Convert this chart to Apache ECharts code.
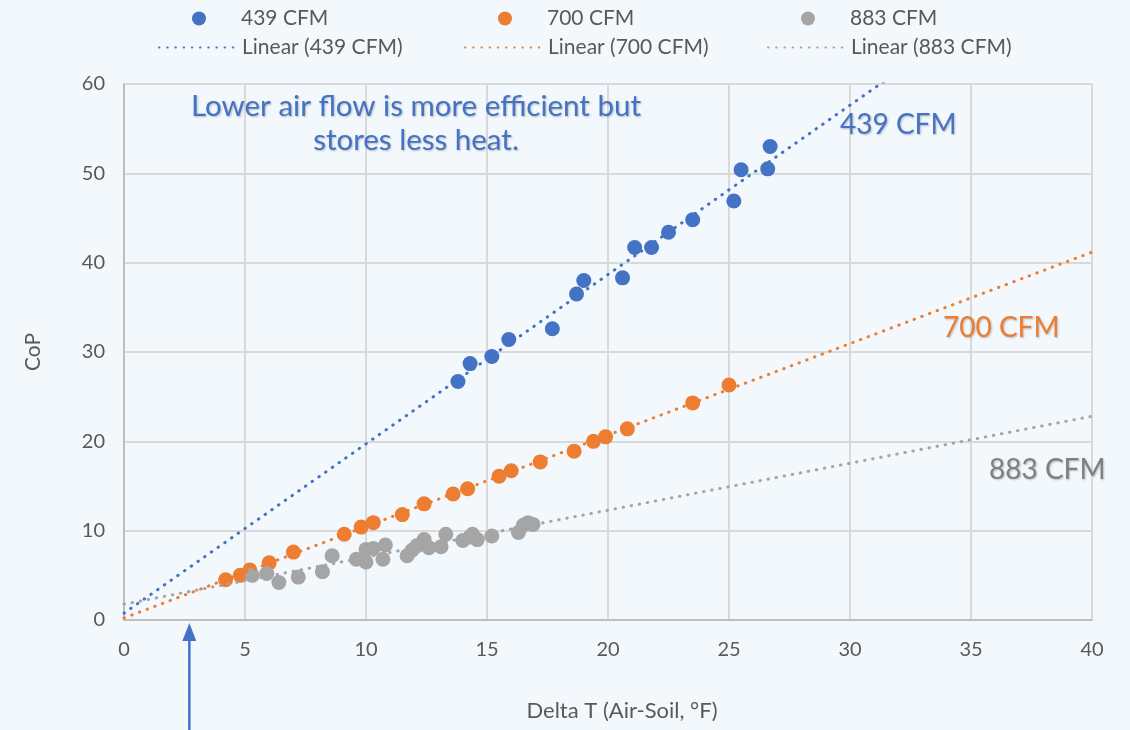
<!DOCTYPE html>
<html>
<head>
<meta charset="utf-8">
<script src="https://cdn.jsdelivr.net/npm/echarts@6/dist/echarts.min.js"></script>
<style>
  html, body { margin: 0; padding: 0; background: #f3f8fd; }
  #chart { width: 1130px; height: 730px; }
</style>
</head>
<body>
<div id="chart"></div>
<script>
// Air-flow groups
const seriesNames = ['439 CFM', '700 CFM', '883 CFM'];
const seriesColors = ['#4472C4', '#ED7D31', '#A5A5A5'];
const labelColors = ['#4472C4', '#ED7D31', '#7F7F7F'];

// 439 CFM: Delta T (°F) and CoP
const cfm439DeltaT = [13.8, 14.3, 15.2, 15.9, 17.7, 18.7, 19.0, 20.6, 21.1, 21.8, 22.5, 23.5, 25.2, 25.5, 26.6, 26.7];
const cfm439CoP    = [26.7, 28.7, 29.5, 31.4, 32.6, 36.5, 38.0, 38.3, 41.7, 41.7, 43.4, 44.8, 46.9, 50.4, 50.5, 53.0];

// 700 CFM
const cfm700DeltaT = [4.2, 4.8, 5.2, 6.0, 7.0, 9.1, 9.8, 10.3, 11.5, 12.4, 13.6, 14.2, 15.5, 16.0, 17.2, 18.6, 19.4, 19.9, 20.8, 23.5, 25.0];
const cfm700CoP    = [4.5, 5.0, 5.6, 6.4, 7.6, 9.6, 10.4, 10.9, 11.8, 13.0, 14.1, 14.7, 16.1, 16.7, 17.7, 18.9, 20.0, 20.5, 21.4, 24.3, 26.3];

// 883 CFM
const cfm883DeltaT = [5.3, 5.9, 6.4, 7.2, 8.2, 8.6, 9.6, 10.0, 10.0, 10.3, 10.7, 10.8, 11.7, 11.9, 12.1, 12.4, 12.6, 13.1, 13.3, 14.0, 14.3, 14.4, 14.6, 15.2, 16.3, 16.5, 16.7, 16.9];
const cfm883CoP    = [5.0, 5.2, 4.2, 4.8, 5.4, 7.2, 6.8, 6.5, 7.9, 8.0, 6.8, 8.4, 7.2, 7.8, 8.3, 9.0, 8.1, 8.2, 9.6, 8.9, 9.3, 9.6, 9.0, 9.4, 9.8, 10.6, 10.9, 10.7];

// Axis ranges and ticks
const xTicks = [0, 5, 10, 15, 20, 25, 30, 35, 40];
const yTicks = [0, 10, 20, 30, 40, 50, 60];

// Free-floating notes
const noteText = 'Lower air flow is more efficient but\nstores less heat.';
const arrowDeltaT = 2.7;

const groups = [
  [cfm439DeltaT, cfm439CoP],
  [cfm700DeltaT, cfm700CoP],
  [cfm883DeltaT, cfm883CoP]
];

// Least-squares linear fit, extended across the whole x range
function linearFit(xs, ys) {
  const n = xs.length;
  let sx = 0, sy = 0, sxx = 0, sxy = 0;
  for (let i = 0; i < n; i++) {
    sx += xs[i]; sy += ys[i]; sxx += xs[i] * xs[i]; sxy += xs[i] * ys[i];
  }
  const m = (n * sxy - sx * sy) / (n * sxx - sx * sx);
  const b = (sy - m * sx) / n;
  return { m, b };
}

const FONT = 'Lato, "Open Sans", sans-serif';
const xMin = xTicks[0], xMax = xTicks[xTicks.length - 1];
const yMin = yTicks[0], yMax = yTicks[yTicks.length - 1];

const series = [];
groups.forEach((g, i) => {
  series.push({
    name: seriesNames[i],
    type: 'scatter',
    data: g[0].map((x, k) => [x, g[1][k]]),
    symbolSize: 15,
    itemStyle: { color: seriesColors[i], opacity: 1 },
    z: 2
  });
});
groups.forEach((g, i) => {
  const fit = linearFit(g[0], g[1]);
  series.push({
    name: 'Linear (' + seriesNames[i] + ')',
    type: 'line',
    data: [[xMin, fit.b + fit.m * xMin], [xMax, fit.b + fit.m * xMax]],
    symbol: 'none',
    showSymbol: false,
    silent: true,
    itemStyle: { color: seriesColors[i] },
    lineStyle: { color: seriesColors[i], width: 3, type: [0.5, 7.7], cap: 'round' },
    z: 3
  });
});

// One legend per entry so the two rows line up in columns
const legendLeft = [158, 464, 767];
const legends = [];
seriesNames.forEach((name, i) => {
  legends.push({
    data: [name],
    left: legendLeft[i] + 34,
    top: 8,
    padding: 0,
    icon: 'circle',
    itemWidth: 14,
    itemHeight: 14,
    selectedMode: false,
    textStyle: { color: '#595959', fontSize: 21, fontFamily: FONT, padding: [0, 0, 0, 30] }
  });
  legends.push({
    data: ['Linear (' + name + ')'],
    left: legendLeft[i],
    top: 37,
    padding: 0,
    itemWidth: 78,
    itemHeight: 14,
    selectedMode: false,
    itemStyle: { opacity: 0 },
    textStyle: { color: '#595959', fontSize: 21, fontFamily: FONT }
  });
});

const chart = echarts.init(document.getElementById('chart'));
chart.setOption({
  backgroundColor: '#f3f8fd',
  animation: false,
  legend: legends,
  grid: { left: 124, right: 38, top: 84, bottom: 110, containLabel: false },
  xAxis: {
    type: 'value',
    min: xMin, max: xMax, interval: xTicks[1] - xTicks[0],
    name: 'Delta T (Air-Soil, °F)',
    nameLocation: 'middle',
    nameGap: 80,
    nameTextStyle: { color: '#595959', fontSize: 22, fontFamily: FONT, padding: [0, 0, 0, 28] },
    axisLine: { show: true, lineStyle: { color: '#BFBFBF', width: 2 } },
    axisTick: { show: false },
    axisLabel: { color: '#595959', fontSize: 20, fontFamily: FONT, margin: 20 },
    splitLine: { show: true, lineStyle: { color: '#D9D9D9', width: 2 } }
  },
  yAxis: {
    type: 'value',
    min: yMin, max: yMax, interval: yTicks[1] - yTicks[0],
    name: 'CoP',
    nameLocation: 'middle',
    nameGap: 80,
    nameRotate: 90,
    nameTextStyle: { color: '#595959', fontSize: 21, fontFamily: FONT },
    axisLine: { show: true, lineStyle: { color: '#BFBFBF', width: 2 } },
    axisTick: { show: false },
    axisLabel: { color: '#595959', fontSize: 20, fontFamily: FONT, margin: 19 },
    splitLine: { show: true, lineStyle: { color: '#D9D9D9', width: 2 } }
  },
  series: series
});

// Notes and the arrow under the x axis
const arrowX = chart.convertToPixel({ xAxisIndex: 0 }, arrowDeltaT);
const axisY = chart.convertToPixel({ yAxisIndex: 0 }, yMin);
const shadow = { textShadowColor: 'rgba(0,0,0,0.25)', textShadowBlur: 2, textShadowOffsetX: 1, textShadowOffsetY: 1 };
chart.setOption({
  graphic: [
    {
      type: 'text', x: 416, y: 123,
      style: Object.assign({
        text: noteText, fill: '#4472C4', font: '29.5px ' + FONT,
        align: 'center', verticalAlign: 'middle', lineHeight: 34
      }, shadow)
    },
    {
      type: 'text', x: 840, y: 125,
      style: Object.assign({ text: seriesNames[0], fill: labelColors[0], font: '28px ' + FONT, verticalAlign: 'middle' }, shadow)
    },
    {
      type: 'text', x: 943, y: 328,
      style: Object.assign({ text: seriesNames[1], fill: labelColors[1], font: '28px ' + FONT, verticalAlign: 'middle' }, shadow)
    },
    {
      type: 'text', x: 989, y: 470,
      style: Object.assign({ text: seriesNames[2], fill: labelColors[2], font: '28px ' + FONT, verticalAlign: 'middle' }, shadow)
    },
    {
      type: 'line',
      shape: { x1: arrowX, y1: axisY + 18, x2: arrowX, y2: 730 },
      style: { stroke: '#4472C4', lineWidth: 2.5 }
    },
    {
      type: 'polygon',
      shape: { points: [[arrowX, axisY + 3], [arrowX - 7, axisY + 21], [arrowX + 7, axisY + 21]] },
      style: { fill: '#4472C4' }
    }
  ]
});
</script>
</body>
</html>
